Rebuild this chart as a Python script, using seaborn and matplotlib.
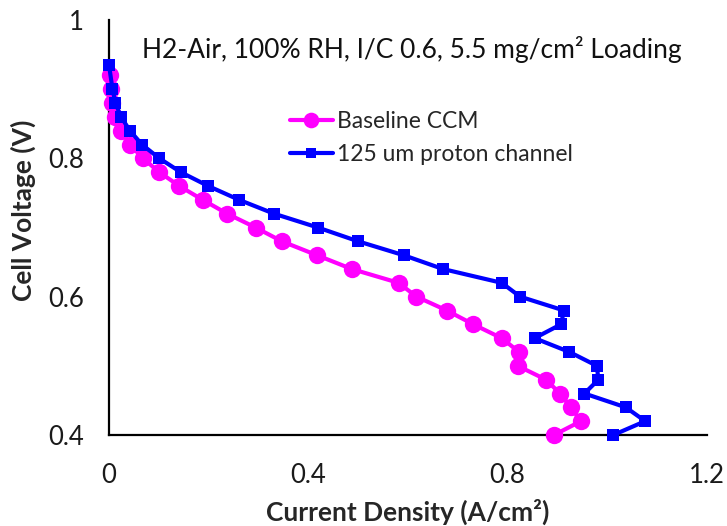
import matplotlib
matplotlib.use("Agg")
import matplotlib.pyplot as plt
import seaborn as sns
import pandas as pd
from matplotlib.ticker import FixedLocator, FixedFormatter

# ---- data ----
baseline_voltage = [0.92, 0.90, 0.88, 0.86, 0.84, 0.82, 0.80, 0.78, 0.76, 0.74, 0.72, 0.70, 0.68,
                    0.66, 0.64, 0.62, 0.60, 0.58, 0.56, 0.54, 0.52, 0.50, 0.48, 0.46, 0.44, 0.42, 0.40]
baseline_current = [0.002, 0.004, 0.007, 0.013, 0.025, 0.042, 0.068, 0.101, 0.141, 0.188, 0.237, 0.294, 0.347,
                    0.417, 0.487, 0.581, 0.617, 0.678, 0.731, 0.788, 0.823, 0.820, 0.877, 0.905, 0.927, 0.947, 0.893]
channel_voltage = [0.935, 0.90, 0.88, 0.86, 0.84, 0.82, 0.80, 0.78, 0.76, 0.74, 0.72, 0.70, 0.68,
                   0.66, 0.64, 0.62, 0.60, 0.58, 0.56, 0.54, 0.52, 0.50, 0.48, 0.46, 0.44, 0.42, 0.40]
channel_current = [0.000, 0.007, 0.013, 0.024, 0.042, 0.066, 0.101, 0.144, 0.199, 0.261, 0.331, 0.419, 0.500,
                   0.591, 0.670, 0.788, 0.825, 0.913, 0.907, 0.854, 0.924, 0.979, 0.982, 0.954, 1.037, 1.076, 1.012]

series_names = ["Baseline CCM", "125 um proton channel"]
x_major_ticks = [0, 0.4, 0.8, 1.2]
x_major_labels = ["0", "0.4", "0.8", "1.2"]
x_minor_ticks = [0.08, 0.16, 0.24, 0.32, 0.48, 0.56, 0.64, 0.72, 0.88, 0.96, 1.04, 1.12]
y_major_ticks = [0.4, 0.6, 0.8, 1.0]
y_major_labels = ["0.4", "0.6", "0.8", "1"]
y_minor_ticks = [0.5, 0.7, 0.9]
annotation = "H2-Air, 100% RH, I/C 0.6, 5.5 mg/cm² Loading"
x_title = "Current Density (A/cm²)"
y_title = "Cell Voltage (V)"

df_base = pd.DataFrame({"I": baseline_current, "V": baseline_voltage})
df_chan = pd.DataFrame({"I": channel_current, "V": channel_voltage})

sns.set_style("white")
plt.rcParams["font.family"] = ["Lato", "DejaVu Sans"]

fig = plt.figure(figsize=(7.27, 5.26), dpi=100)
ax = fig.add_axes([109 / 727, (526 - 435) / 526, 598 / 727, 415 / 526])

sns.lineplot(data=df_base, x="I", y="V", sort=False, estimator=None, ax=ax,
             color="#FF00FF", marker="o", markersize=12.5, markeredgecolor="#FF00FF",
             markeredgewidth=0, linewidth=3, label=series_names[0], clip_on=False, zorder=3)
sns.lineplot(data=df_chan, x="I", y="V", sort=False, estimator=None, ax=ax,
             color="#0000FF", marker="s", markersize=8.3, markeredgecolor="#0000FF",
             markeredgewidth=0, linewidth=3, label=series_names[1], clip_on=False, zorder=4)

ax.set_xlim(0, 1.2)
ax.set_ylim(0.4, 1.0)
ax.xaxis.set_major_locator(FixedLocator(x_major_ticks))
ax.xaxis.set_major_formatter(FixedFormatter(x_major_labels))
ax.xaxis.set_minor_locator(FixedLocator(x_minor_ticks))
ax.yaxis.set_major_locator(FixedLocator(y_major_ticks))
ax.yaxis.set_major_formatter(FixedFormatter(y_major_labels))
ax.yaxis.set_minor_locator(FixedLocator(y_minor_ticks))

for s in ["top", "right"]:
    ax.spines[s].set_visible(False)
for s in ["left", "bottom"]:
    ax.spines[s].set_color("black")
    ax.spines[s].set_linewidth(1.6)
    ax.spines[s].set_zorder(1)

ax.tick_params(axis="both", which="both", direction="in", length=5, width=1.6, color="black",
               labelsize=18.5, labelcolor="#1a1a1a")
ax.tick_params(axis="x", which="both", pad=20)
ax.tick_params(axis="y", which="both", pad=18)

ax.set_xlabel(x_title, fontsize=19, fontweight="bold", labelpad=8)
ax.set_ylabel(y_title, fontsize=19, fontweight="bold")
ax.yaxis.set_label_coords(-0.122, 0.542)

ax.text(0.056, 0.928, annotation, transform=ax.transAxes, fontsize=19,
        va="center", ha="left", color="#111111")

leg = ax.legend(loc="center left", bbox_to_anchor=(0.303, 0.7155), frameon=False,
                fontsize=16.5, handlelength=1.85, handletextpad=0.2, labelspacing=0.55,
                borderaxespad=0, borderpad=0)
for h in leg.legend_handles:
    h.set_markersize(h.get_markersize() * 0.9)

fig.savefig("out.png", dpi=100)
